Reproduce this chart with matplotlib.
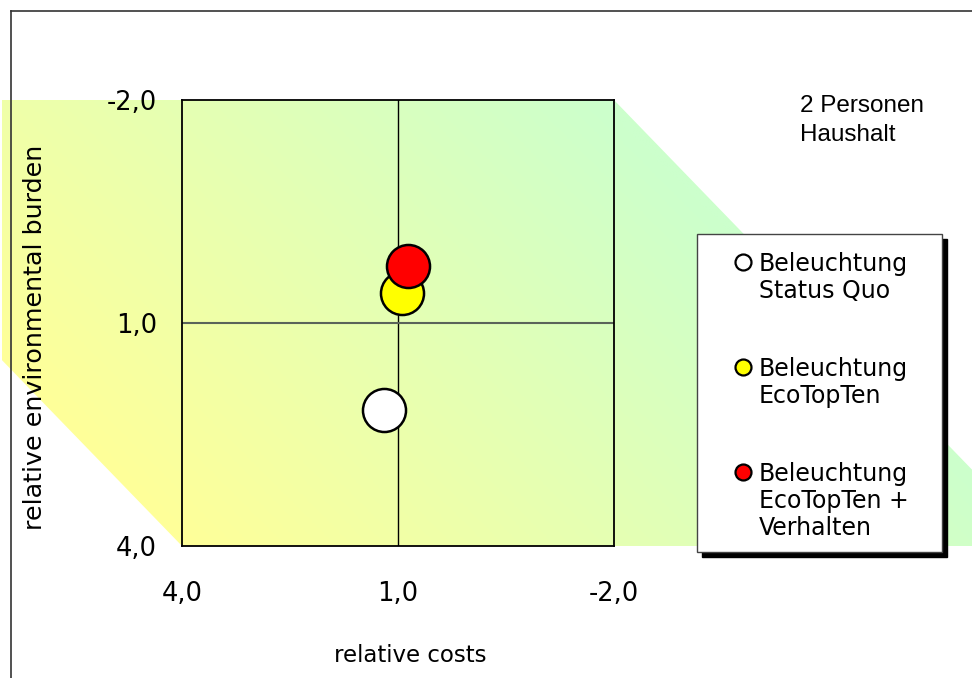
import numpy as np
import matplotlib
matplotlib.use("Agg")
import matplotlib.pyplot as plt
from matplotlib.patches import Polygon, Rectangle
from matplotlib.lines import Line2D
from matplotlib.colors import LinearSegmentedColormap

# ---- data ----
series_labels = ["Beleuchtung\nStatus Quo", "Beleuchtung\nEcoTopTen", "Beleuchtung\nEcoTopTen +\nVerhalten"]
series_colors = ["#ffffff", "#ffff00", "#ff0000"]
rel_costs = [1.19, 0.94, 0.86]
rel_burden = [2.17, 0.59, 0.23]
tick_values = [4.0, 1.0, -2.0]
tick_labels = ["4,0", "1,0", "-2,0"]
x_label = "relative costs"
y_label = "relative environmental burden"
note = "2 Personen\nHaushalt"

W, H = 972, 678
DPI = 100
fig = plt.figure(figsize=(W / DPI, H / DPI), dpi=DPI)
fig.patch.set_facecolor("white")

def fx(px):
    return px / W

def fy(py):
    return 1 - py / H

# main axes position (pixels)
L, R, T, B = 182, 614, 100, 546
x0, x1 = 4.0, -2.0
y0, y1 = 4.0, -2.0   # bottom, top

# background axes covering whole figure, same data mapping as main axes
sx = (x1 - x0) / (R - L)
sy = (y0 - y1) / (B - T)
bx_left = x0 - L * sx
bx_right = x0 + (W - L) * sx
by_top = y1 - T * sy
by_bottom = y1 + (H - T) * sy
ax_bg = fig.add_axes([0, 0, 1, 1], zorder=0)
ax_bg.set_xlim(bx_left, bx_right)
ax_bg.set_ylim(by_bottom, by_top)
ax_bg.axis("off")

# diagonal band polygon (data coords)
xl = x0 + (2 - L) * sx     # left edge of band
xr = bx_right
poly = [(xl, y1), (x1, y1), (xr, y1 + (x1 - xr)), (xr, y0), (x0, y0), (xl, y0 - (xl - x0))]
patch = Polygon(poly, closed=True, facecolor="none", edgecolor="none")
ax_bg.add_patch(patch)
cmap = LinearSegmentedColormap.from_list("yg", ["#ffff99", "#ccffcc"])
nx, ny = 400, 300
gx = np.linspace(0, 1, nx)
gy = np.linspace(0, 1, ny)
GX, GY = np.meshgrid(gx, gy)
pxW = W * GX
pyH = H * (1 - GY)
p = pxW - pyH
g = np.clip((p + 364) / (500 + 364), 0, 1)
im = ax_bg.imshow(g, cmap=cmap, extent=(bx_left, bx_right, by_bottom, by_top), origin="lower",
                  aspect="auto", interpolation="bilinear", zorder=0)
im.set_clip_path(patch)

# figure border (open to right/bottom)
fig.add_artist(Line2D([fx(11), fx(11)], [fy(11), fy(H + 5)], color="#333333", lw=1.2))
fig.add_artist(Line2D([fx(11), fx(W + 5)], [fy(11), fy(11)], color="#333333", lw=1.2))

# main axes
ax = fig.add_axes([fx(L), fy(B), fx(R - L), (B - T) / H], zorder=2)
ax.patch.set_alpha(0)
ax.set_xlim(x0, x1)
ax.set_ylim(y0, y1)
for s in ax.spines.values():
    s.set_linewidth(1.3)
    s.set_color("black")
ax.axvline(1.0, color="black", lw=1.0, zorder=1)
ax.axhline(1.0, color="#5a645a", lw=1.5, zorder=1)

ax.set_xticks(tick_values)
ax.set_xticklabels(tick_labels)
ax.set_yticks(tick_values)
ax.set_yticklabels(tick_labels)
ax.tick_params(axis="both", length=0, labelsize=18.5)
ax.tick_params(axis="x", pad=25)
ax.tick_params(axis="y", pad=18)

for xc, yc, c in zip(rel_costs, rel_burden, series_colors):
    ax.plot([xc], [yc], "o", ms=31, mfc=c, mec="black", mew=1.8, zorder=3)

# axis labels
fig.text(fx(410), fy(655), x_label, ha="center", va="center", fontsize=16.5)
fig.text(fx(35), fy(337), y_label, ha="center", va="center", rotation=90, fontsize=18.3)

# note text
fig.text(fx(800), fy(95), note, ha="left", va="top", fontsize=17.5,
         family="Liberation Sans", linespacing=1.42)

# legend box with shadow
lx0, ly0, lx1, ly1 = 697, 234, 942, 552
fig.add_artist(Rectangle((fx(lx0 + 5), fy(ly1 + 5)), fx(lx1 - lx0), (ly1 - ly0) / H,
                         facecolor="black", edgecolor="black", zorder=3))
fig.add_artist(Rectangle((fx(lx0), fy(ly1)), fx(lx1 - lx0), (ly1 - ly0) / H,
                         facecolor="white", edgecolor="#444444", lw=1.0, zorder=4))
entry_y = [262, 367, 472]
for lab, c, ey in zip(series_labels, series_colors, entry_y):
    fig.add_artist(Line2D([fx(743)], [fy(ey)], marker="o", ms=11.5, mfc=c, mec="black",
                          mew=1.6, zorder=5))
    fig.text(fx(759), fy(ey - 10), lab, ha="left", va="top", fontsize=17,
             linespacing=1.17, zorder=6)

fig.savefig("out.png", dpi=DPI, facecolor="white")
